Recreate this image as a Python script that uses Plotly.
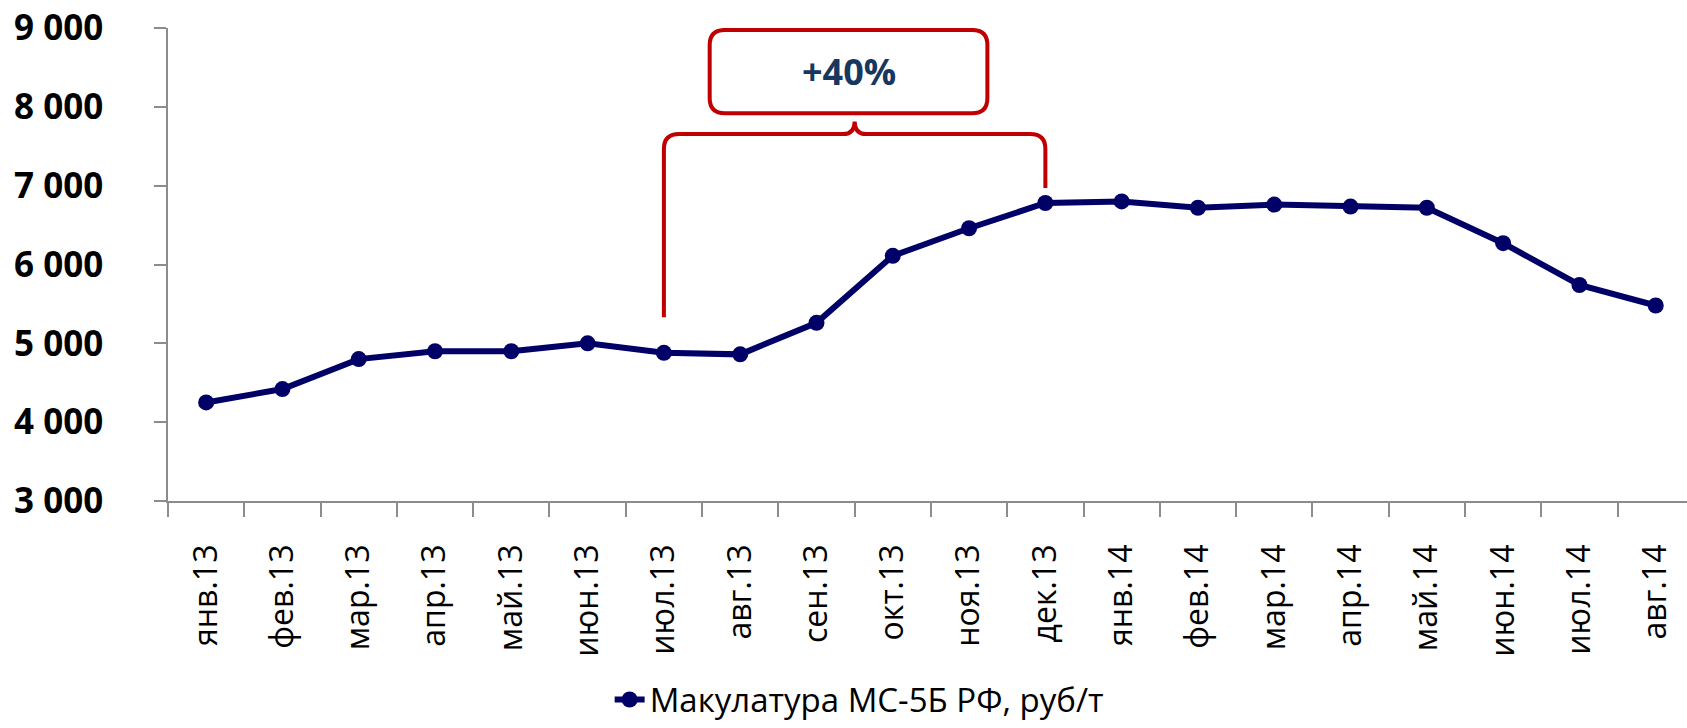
import plotly.graph_objects as go

# Data
months = ["янв.13", "фев.13", "мар.13", "апр.13", "май.13", "июн.13", "июл.13",
          "авг.13", "сен.13", "окт.13", "ноя.13", "дек.13", "янв.14", "фев.14",
          "мар.14", "апр.14", "май.14", "июн.14", "июл.14", "авг.14"]
price = [4250, 4420, 4800, 4900, 4900, 5000, 4880, 4860, 5260, 6110,
         6460, 6780, 6800, 6720, 6760, 6735, 6720, 6270, 5740, 5480]
series_name = "Макулатура МС-5Б РФ, руб/т"
y_ticks = [3000, 4000, 5000, 6000, 7000, 8000, 9000]
y_ticktext = ["3 000", "4 000", "5 000", "6 000", "7 000", "8 000", "9 000"]
growth_label = "+40%"
start_idx, end_idx = 6, 11   # июл.13 -> дек.13

navy = "#000066"
red = "#C00000"
axis_grey = "#8C8C8C"

idx = list(range(len(months)))

fig = go.Figure()
fig.add_trace(go.Scatter(
    x=idx, y=price, name=series_name, mode="lines+markers",
    line=dict(color=navy, width=6),
    marker=dict(color=navy, size=16),
))

# bracket over the growth period
yb = 7655
lx, rx = start_idx, end_idx
mid = (lx + rx) / 2
cx, cy = 0.2, 190
bracket = (f"M {lx},{price[start_idx] + 450} L {lx},{yb - cy} Q {lx},{yb} {lx + cx},{yb} "
           f"L {mid - 0.15},{yb} Q {mid},{yb} {mid},{yb + 160} Q {mid},{yb} {mid + 0.15},{yb} "
           f"L {rx - cx},{yb} Q {rx},{yb} {rx},{yb - cy} L {rx},{price[end_idx] + 190}")
fig.add_shape(type="path", path=bracket, xref="x", yref="y",
              line=dict(color=red, width=4))

# rounded box with label
bx0, bx1, by0, by1 = 6.6, 10.24, 7920, 8975
box = (f"M {bx0 + cx},{by1} L {bx1 - cx},{by1} Q {bx1},{by1} {bx1},{by1 - cy} "
       f"L {bx1},{by0 + cy} Q {bx1},{by0} {bx1 - cx},{by0} L {bx0 + cx},{by0} "
       f"Q {bx0},{by0} {bx0},{by0 + cy} L {bx0},{by1 - cy} Q {bx0},{by1} {bx0 + cx},{by1} Z")
fig.add_shape(type="path", path=box, xref="x", yref="y",
              line=dict(color=red, width=4), fillcolor="white")
fig.add_annotation(x=(bx0 + bx1) / 2, y=(by0 + by1) / 2, text=growth_label, showarrow=False,
                   font=dict(family="Open Sans", size=36, color="#17375E", weight="bold"))

fig.update_layout(
    width=1687, height=728,
    margin=dict(l=168, r=0, t=28, b=227),
    plot_bgcolor="white", paper_bgcolor="white",
    font=dict(family="Open Sans", color="black"),
    showlegend=True,
    legend=dict(orientation="h", x=0.455, xanchor="center", y=-0.479, yanchor="bottom",
                font=dict(family="Open Sans", size=33, color="black")),
)
fig.update_xaxes(
    automargin=False,
    range=[-0.5, 19.41], tickmode="array", tickvals=idx, ticktext=months,
    tickangle=-90, ticks="", ticklabelstandoff=29,
    tickfont=dict(family="Open Sans", size=32, color="black"),
    showline=True, linecolor=axis_grey, linewidth=1.5, showgrid=False, zeroline=False,
    minor=dict(tickmode="array", tickvals=[i - 0.5 for i in idx], ticks="outside",
               ticklen=14, tickcolor=axis_grey, tickwidth=1.5),
)
fig.update_yaxes(
    automargin=False,
    range=[3000, 9000], tickmode="array", tickvals=y_ticks, ticktext=y_ticktext,
    ticks="outside", ticklen=12, tickcolor=axis_grey, tickwidth=1.5, ticklabelstandoff=44,
    tickfont=dict(family="Open Sans", size=35, color="black", weight="bold"),
    showline=True, linecolor=axis_grey, linewidth=1.5, showgrid=False, zeroline=False,
)

# page body has a default 8px margin; remove it so the figure fills the window
fig.write_html("out.html", config={"displayModeBar": False},
               post_script="document.body.style.margin='0';")
